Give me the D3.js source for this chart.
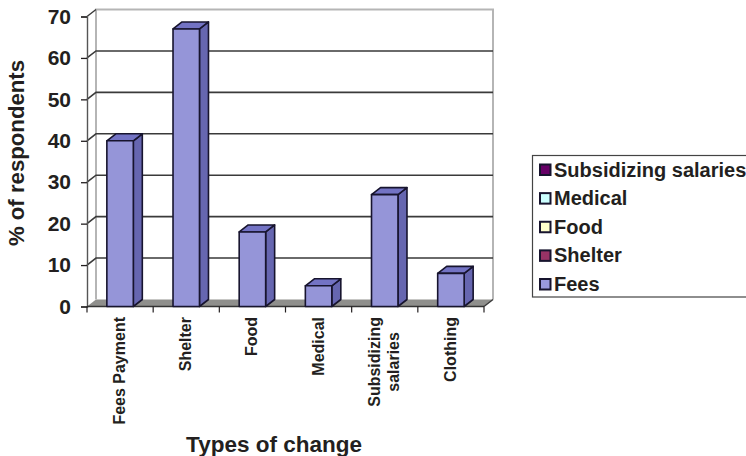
<!DOCTYPE html>
<html>
<head>
<meta charset="utf-8">
<script src="https://cdnjs.cloudflare.com/ajax/libs/d3/7.8.5/d3.min.js"></script>
<style>
html, body { margin: 0; padding: 0; background: #fff; overflow: hidden; }
svg { display: block; }
text { font-family: "Liberation Sans", Arial, sans-serif; font-weight: bold; fill: #231f20; }
</style>
</head>
<body>
<svg id="chart" width="746" height="456"></svg>
<script>
// Survey results: share of respondents by type of change
const categories = ["Fees Payment", "Shelter", "Food", "Medical", "Subsidizing salaries", "Clothing"];
const percentages = [40, 67, 18, 5, 27, 8];
const yTicks = [0, 10, 20, 30, 40, 50, 60, 70];
const legendLabels = ["Subsidizing salaries", "Medical", "Food", "Shelter", "Fees"];
const legendColors = ["#660066", "#ccffff", "#ffffcc", "#993366", "#9999dd"];

const svg = d3.select("#chart");
const ink = "#231f20";
const depth = { x: 9, y: 7 };           // oblique offset of the 3D box
const x = d3.scaleBand().domain(categories).range([87, 484]).paddingInner(0.6).paddingOuter(0.3);
const y = d3.scaleLinear().domain([0, 70]).range([306.5, 16.5]);
const left = x.range()[0], right = x.range()[1];
const poly = pts => pts.map(p => p.join(",")).join(" ");

// Floor
svg.append("polygon")
  .attr("points", poly([[left, y(0)], [left + depth.x, y(0) - depth.y], [right + depth.x, y(0) - depth.y], [right, y(0)]]))
  .attr("fill", "#8f8f8c");

// Wall edges in light grey
svg.append("polyline")
  .attr("points", poly([[left + depth.x, y(0) - depth.y], [left + depth.x, y(70) - depth.y], [right + depth.x, y(70) - depth.y], [right + depth.x, y(0) - depth.y]]))
  .attr("fill", "none").attr("stroke", "#b5b5b5").attr("stroke-width", 2);

// Gridlines run along the back wall and step down the side wall
svg.append("g").selectAll("polyline")
  .data(yTicks.filter(d => d > 0 && d < 70))
  .join("polyline")
  .attr("points", d => poly([[left, y(d)], [left + depth.x, y(d) - depth.y], [right + depth.x, y(d) - depth.y]]))
  .attr("fill", "none").attr("stroke", "#3a3a3a").attr("stroke-width", 1.6);
svg.append("line")
  .attr("x1", left).attr("y1", y(70)).attr("x2", left + depth.x).attr("y2", y(70) - depth.y)
  .attr("stroke", "#3a3a3a").attr("stroke-width", 1.4);
svg.append("line")
  .attr("x1", right).attr("y1", y(0)).attr("x2", right + depth.x).attr("y2", y(0) - depth.y)
  .attr("stroke", "#3a3a3a").attr("stroke-width", 1.4);

// Axes
const yAxis = d3.axisLeft(y).tickValues(yTicks).tickSize(6).tickPadding(10);
const yG = svg.append("g").attr("transform", `translate(${left},0)`).call(yAxis);
yG.select(".domain").attr("stroke", "#555").attr("stroke-width", 1.4);
yG.selectAll(".tick line").attr("stroke", ink).attr("stroke-width", 1.3);
yG.selectAll(".tick text").attr("font-size", 21).style("font-family", '"Liberation Sans", Arial, sans-serif').style("font-weight", "bold").attr("fill", ink);

const step = x.step();
const xEdges = d3.range(categories.length + 1).map(i => left + i * step);
svg.append("line")
  .attr("x1", left).attr("x2", right).attr("y1", y(0)).attr("y2", y(0))
  .attr("stroke", "#333").attr("stroke-width", 1.5);
svg.append("g").selectAll("line").data(xEdges).join("line")
  .attr("x1", d => d).attr("x2", d => d)
  .attr("y1", y(0)).attr("y2", y(0) + 6)
  .attr("stroke", ink).attr("stroke-width", 1.2);

// Bars drawn as side, top and front faces
const bars = svg.append("g").selectAll("g").data(categories).join("g");
const val = i => percentages[i];
const face = { stroke: "#17142e", "stroke-width": 1.6, "stroke-linejoin": "round" };
function applyFace(sel) { Object.entries(face).forEach(([k, v]) => sel.attr(k, v)); return sel; }
applyFace(bars.append("polygon")
  .attr("points", (c, i) => {
    const x1 = x(c) + x.bandwidth(), t = y(val(i));
    return poly([[x1, t], [x1 + depth.x, t - depth.y], [x1 + depth.x, y(0) - depth.y], [x1, y(0)]]);
  }).attr("fill", "#6666b0"));
applyFace(bars.append("polygon")
  .attr("points", (c, i) => {
    const x0 = x(c), x1 = x0 + x.bandwidth(), t = y(val(i));
    return poly([[x0, t], [x0 + depth.x, t - depth.y], [x1 + depth.x, t - depth.y], [x1, t]]);
  }).attr("fill", "#7373c4"));
applyFace(bars.append("rect")
  .attr("x", c => x(c)).attr("width", x.bandwidth())
  .attr("y", (c, i) => y(val(i))).attr("height", (c, i) => y(0) - y(val(i)))
  .attr("fill", "#9595d8"));

// Category labels, rotated to read bottom-to-top; long names wrap onto two lines
const wrapped = { "Subsidizing salaries": ["Subsidizing", "salaries"] };
const catLabels = svg.append("g").selectAll("text").data(categories).join("text")
  .attr("transform", c => `translate(${x(c) + x.bandwidth() / 2 + 5},317) rotate(-90)`)
  .attr("text-anchor", "middle").attr("font-size", 16);
catLabels.each(function (c) {
  const lines = wrapped[c] || [c];
  const t = d3.select(this);
  const probe = t.append("tspan").text(lines[0]);
  const longest = this.getComputedTextLength();
  probe.remove();
  lines.forEach((ln, i) => {
    t.append("tspan").attr("x", -longest / 2)
      .attr("y", (i - (lines.length - 1) / 2) * 19)
      .text(ln);
  });
});

// Axis titles
svg.append("text").attr("transform", "translate(23.5,153) rotate(-90)")
  .attr("text-anchor", "middle").attr("font-size", 22.2).text("% of respondents");
svg.append("text").attr("x", 274).attr("y", 451.5)
  .attr("text-anchor", "middle").attr("font-size", 22.5).text("Types of change");

// Legend; its box runs off the right edge of the page
svg.append("rect").attr("x", 532.5).attr("y", 155.5).attr("width", 230).attr("height", 141.5)
  .attr("fill", "#fff").attr("stroke", "#444").attr("stroke-width", 1.2);
const rowY = d3.scalePoint().domain(legendLabels).range([169.5, 284]);
const rows = svg.append("g").selectAll("g").data(legendLabels).join("g")
  .attr("transform", d => `translate(0,${rowY(d)})`);
rows.append("rect").attr("x", 540).attr("y", -5).attr("width", 10.5).attr("height", 10.5)
  .attr("fill", (d, i) => legendColors[i]).attr("stroke", "#17142e").attr("stroke-width", 2);
rows.append("text").attr("x", 554).attr("y", 7).attr("font-size", 20).text(d => d);
</script>
</body>
</html>
